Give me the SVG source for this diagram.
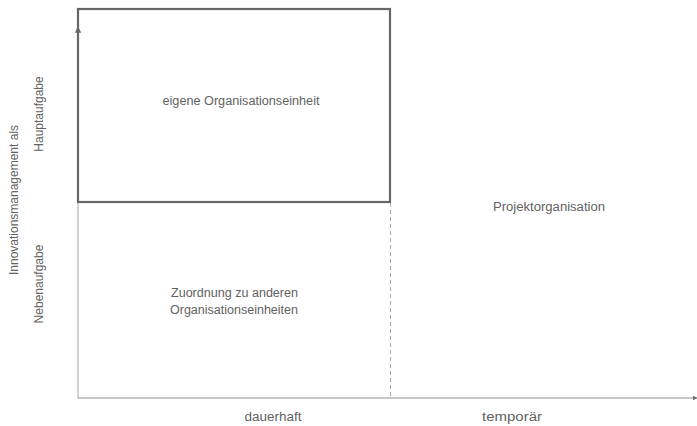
<svg xmlns="http://www.w3.org/2000/svg" width="697" height="426" viewBox="0 0 697 426">
<style>
text{font-family:"Liberation Sans",Arial,sans-serif;font-size:12px;fill:#626262;text-anchor:middle}
.axis{stroke:#8c8c8c;stroke-width:1;fill:none}
</style>
<defs>
<marker id="arr" viewBox="0 0 10 10" refX="9" refY="5" markerWidth="5" markerHeight="5" orient="auto">
<path d="M0,0 L10,5 L0,10 z" fill="#6e6e6e"/>
</marker>
</defs>
<rect width="697" height="426" fill="#ffffff"/>
<g id="connectors">
<line x1="78" y1="398" x2="78" y2="27" style="stroke:#b8b8b8;stroke-width:1.3" marker-end="url(#arr)"/>
<line class="axis" x1="78" y1="398" x2="697" y2="398" marker-end="url(#arr)"/>
<line x1="390.5" y1="203" x2="390.5" y2="398" stroke="#a6a6a6" stroke-width="1" stroke-dasharray="4,3"/>
</g>
<g id="eigene">
<rect x="78" y="9" width="312" height="193" fill="none" stroke="#666666" stroke-width="2.2"/>
<text x="241" y="105" textLength="157" lengthAdjust="spacingAndGlyphs">eigene Organisationseinheit</text>
</g>
<g id="projekt">
<text x="549" y="211" textLength="112" lengthAdjust="spacingAndGlyphs">Projektorganisation</text>
</g>
<g id="zuordnung">
<text x="234.5" y="297" textLength="127" lengthAdjust="spacingAndGlyphs">Zuordnung zu anderen</text>
<text x="234" y="314" textLength="128" lengthAdjust="spacingAndGlyphs">Organisationseinheiten</text>
</g>
<g id="xlabels">
<text x="273" y="421" textLength="57" lengthAdjust="spacingAndGlyphs">dauerhaft</text>
<text x="512" y="421" textLength="60" lengthAdjust="spacingAndGlyphs">temporär</text>
</g>
<g id="ylabels">
<text transform="translate(18,200) rotate(-90)">Innovationsmanagement als</text>
<text transform="translate(43,114) rotate(-90)">Hauptaufgabe</text>
<text transform="translate(43,284) rotate(-90)">Nebenaufgabe</text>
</g>
</svg>
